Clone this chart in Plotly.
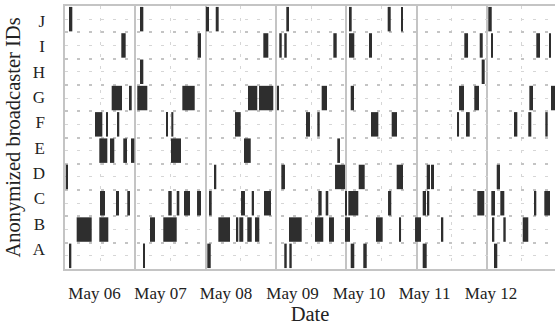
import plotly.graph_objects as go

# Broadcaster IDs (bottom to top)
ids = ["A", "B", "C", "D", "E", "F", "G", "H", "I", "J"]
# Positions of the ID labels along the y axis (row units)
id_positions = [0.76, 1.72, 2.69, 3.65, 4.61, 5.58, 6.54, 7.50, 8.47, 9.43]

# Activity sessions per broadcaster: (start, end) in days from the plot origin
sessions_A = [(0.057, 0.090), (1.114, 1.134), (2.024, 2.073), (3.119, 3.154), (3.191, 3.225),
              (4.064, 4.115), (4.243, 4.292), (5.088, 5.145), (6.102, 6.149)]
sessions_B = [(0.166, 0.380), (0.488, 0.616), (1.209, 1.280), (1.398, 1.589), (2.181, 2.347),
              (2.442, 2.465), (2.479, 2.536), (2.593, 2.656), (2.703, 2.764), (3.186, 3.367),
              (3.556, 3.674), (3.755, 3.826), (3.983, 4.054), (4.424, 4.519), (4.765, 4.780),
              (4.979, 5.064), (5.353, 5.381), (6.084, 6.107), (6.235, 6.269), (6.511, 6.590)]
sessions_C = [(0.498, 0.569), (0.725, 0.768), (0.886, 0.925), (1.469, 1.518), (1.589, 1.626),
              (1.693, 1.778), (1.878, 1.935), (2.048, 2.087), (2.504, 2.560), (2.656, 2.688),
              (2.831, 2.930), (3.603, 3.651), (3.708, 3.745), (3.983, 4.011), (4.030, 4.172),
              (4.595, 4.641), (5.088, 5.135), (5.154, 5.182), (5.865, 5.964), (6.064, 6.117),
              (6.192, 6.249), (6.676, 6.704), (6.818, 6.899)]
sessions_D = [(0.010, 0.043), (2.119, 2.152), (3.077, 3.129), (3.841, 3.983), (4.178, 4.263),
              (4.718, 4.808), (5.145, 5.192), (5.206, 5.249), (6.141, 6.188)]
sessions_E = [(0.488, 0.602), (0.650, 0.669), (0.679, 0.701), (0.829, 0.882), (0.939, 0.986),
              (1.508, 1.650), (2.546, 2.642), (3.873, 3.912)]
sessions_F = [(0.427, 0.531), (0.593, 0.612), (0.744, 0.772), (1.437, 1.455), (1.512, 1.541),
              (2.418, 2.499), (3.428, 3.485), (3.589, 3.623), (4.353, 4.457), (4.647, 4.723),
              (5.583, 5.605), (5.704, 5.757), (6.387, 6.434), (6.590, 6.633), (6.832, 6.866)]
sessions_G = [(0.664, 0.811), (0.910, 0.949), (1.028, 1.171), (1.669, 1.845), (2.603, 2.735),
              (2.760, 2.963), (3.016, 3.040), (3.651, 3.727), (4.064, 4.111), (5.605, 5.676),
              (5.822, 5.889), (6.605, 6.657), (6.913, 6.970)]
sessions_H = [(1.067, 1.114), (5.927, 5.970)]
sessions_I = [(0.801, 0.863), (1.888, 1.935), (2.821, 2.892), (3.048, 3.083), (3.119, 3.154),
              (3.817, 3.865), (4.040, 4.115), (4.324, 4.367), (5.680, 5.733), (5.899, 5.942),
              (6.070, 6.088), (6.704, 6.757), (6.885, 6.903)]
sessions_J = [(0.057, 0.104), (1.067, 1.114), (2.006, 2.048), (2.144, 2.186), (3.148, 3.186),
              (4.040, 4.078), (4.590, 4.633), (4.780, 4.804), (6.021, 6.070)]

all_sessions = [sessions_A, sessions_B, sessions_C, sessions_D, sessions_E,
                sessions_F, sessions_G, sessions_H, sessions_I, sessions_J]

# Date tick labels and their positions (days from origin)
date_labels = ["May 06", "May 07", "May 08", "May 09", "May 10", "May 11", "May 12"]
date_positions = [0.420, 1.358, 2.290, 3.236, 4.182, 5.114, 6.060]

x_max = 6.97
day_bounds = [1, 2, 3, 4, 5, 6]
mid_days = [k + 0.5 for k in range(7)]
row_bounds = list(range(1, 10))
row_centers = [i + 0.5 for i in range(10)]

FONT = "Liberation Serif"
GRID = "#c4c4c4"
MINOR = "#d6d6d6"
DASH = "3px,9px"
BAR = "#2e2e2e"
TXT = "#222222"

fig = go.Figure()
for i, sess in enumerate(all_sessions):
    fig.add_trace(go.Bar(
        orientation="h",
        y=[i + 0.5] * len(sess),
        base=[s for s, e in sess],
        x=[e - s for s, e in sess],
        width=0.93,
        marker=dict(color=BAR, line=dict(width=0)),
        showlegend=False,
        hoverinfo="skip",
    ))

# invisible helpers so the label axes get drawn
fig.add_trace(go.Scatter(x=[None], y=[None], xaxis="x2", yaxis="y",
                         showlegend=False, hoverinfo="skip"))
fig.add_trace(go.Scatter(x=[None], y=[None], xaxis="x", yaxis="y2",
                         showlegend=False, hoverinfo="skip"))

fig.update_layout(
    width=555, height=327,
    margin=dict(l=65, r=0, t=6, b=58),
    paper_bgcolor="white", plot_bgcolor="white",
    barmode="overlay",
    font=dict(family=FONT, color=TXT),
    xaxis=dict(
        range=[0, x_max], tickmode="array", tickvals=day_bounds,
        showticklabels=False, ticks="", automargin=False,
        showgrid=True, gridcolor=GRID, gridwidth=2,
        minor=dict(tickmode="array", tickvals=mid_days, showgrid=True,
                   gridcolor=MINOR, gridwidth=1, griddash=DASH, ticks=""),
        showline=True, linecolor=GRID, linewidth=2, mirror=True, zeroline=False,
    ),
    xaxis2=dict(
        overlaying="x", anchor="y", side="bottom", automargin=False,
        range=[0, x_max], tickmode="array", tickvals=date_positions, ticktext=date_labels,
        showgrid=False, zeroline=False, showline=False, ticks="",
        ticklabelstandoff=12,
        tickfont=dict(family=FONT, size=17, color=TXT),
        title=dict(text="Date", font=dict(family=FONT, size=20.5, color=TXT), standoff=4),
    ),
    yaxis=dict(
        range=[0, 10], tickmode="array", tickvals=row_centers,
        showticklabels=False, ticks="", automargin=False,
        showgrid=True, gridcolor=MINOR, gridwidth=1, griddash=DASH,
        minor=dict(tickmode="array", tickvals=row_bounds, showgrid=True,
                   gridcolor=GRID, gridwidth=2, ticks=""),
        showline=True, linecolor=GRID, linewidth=2, mirror=True, zeroline=False,
    ),
    yaxis2=dict(
        overlaying="y", anchor="x", side="left", automargin=False,
        range=[0, 10], tickmode="array", tickvals=id_positions, ticktext=ids,
        showgrid=False, zeroline=False, showline=False, ticks="",
        ticklabelstandoff=19,
        tickfont=dict(family=FONT, size=17, color=TXT),
        title=dict(text="Anonymized broadcaster IDs",
                   font=dict(family=FONT, size=20.5, color=TXT), standoff=6),
    ),
)

fig.write_html("out.html", config={"displayModeBar": False},
               post_script="document.body.style.margin='0';document.body.style.overflow='hidden';")
